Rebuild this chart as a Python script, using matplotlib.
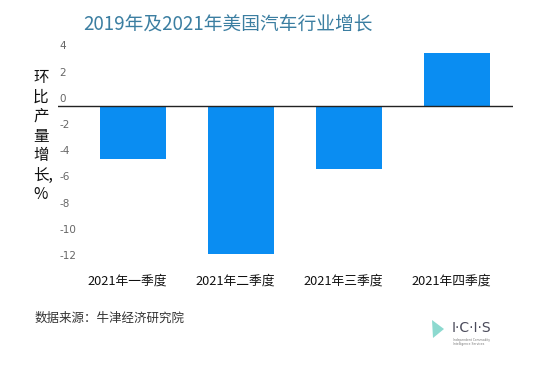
import matplotlib.pyplot as plt
import matplotlib.transforms as mtransforms
from matplotlib.patches import Polygon

plt.rcParams['font.family'] = ['Noto Sans CJK SC', 'DejaVu Sans']

# data (quarter-on-quarter output growth, %)
quarters = ['2021年一季度', '2021年二季度', '2021年三季度', '2021年四季度']
growth = [-4.1, -11.3, -4.85, 4.05]
y_ticks = [4, 2, 0, -2, -4, -6, -8, -10, -12]

bar_color = '#0a8df2'
title_color = '#3b7ea1'

fig = plt.figure(figsize=(5.48, 3.70), dpi=100)
ax = fig.add_axes([58 / 548, 1 - 270.8 / 370, 455 / 548, 230.6 / 370])

x = list(range(len(quarters)))
ax.bar(x, growth, width=0.61, color=bar_color, zorder=2)
ax.axhline(0, color='#222222', linewidth=1.0, zorder=3)

ax.set_xlim(-0.694, 3.52)
ax.set_ylim(-12.6, 5)

for s in ax.spines.values():
    s.set_visible(False)
ax.set_yticks([])
ax.set_xticks(x)
ax.tick_params(axis='x', length=0, pad=3)
lbl_shift = mtransforms.ScaledTranslation(-6 / 100, 0, fig.dpi_scale_trans)
ax.set_xticklabels(quarters, fontsize=9.2, color='#111111')
for t in ax.get_xticklabels():
    t.set_transform(t.get_transform() + lbl_shift)

# y labels sit a little above their gridline positions, left aligned
ytrans = mtransforms.offset_copy(ax.get_yaxis_transform(), fig=fig, x=1, y=7, units='dots')
for v in y_ticks:
    ax.text(0, v, str(v), transform=ytrans, ha='left', va='center',
            fontsize=7.5, color='#666666', family=['DejaVu Sans'])

fig.text(83 / 548, 1 - 25 / 370, '2019年及2021年美国汽车行业增长', fontsize=13.5,
         color=title_color, ha='left', va='center')

fig.text(33 / 548, 1 - 136 / 370, '环\n比\n产\n量\n增\n长,\n%', fontsize=11.2,
         color='#111111', ha='left', va='center', linespacing=1.2, multialignment='left')

fig.text(35 / 548, 1 - 318 / 370, '数据来源：牛津经济研究院', fontsize=9, color='#333333',
         ha='left', va='center')

# ICIS logo
icon = Polygon([[432 / 548, 1 - 320 / 370], [444 / 548, 1 - 329 / 370], [433 / 548, 1 - 338 / 370]],
               closed=True, transform=fig.transFigure, facecolor='#6fd0c4', edgecolor='none', alpha=0.8)
fig.patches.append(icon)
fig.text(452 / 548, 1 - 328 / 370, 'I·C·I·S', fontsize=10, color='#4a4a5a', ha='left', va='center',
         family=['DejaVu Sans'])
fig.text(453 / 548, 1 - 342 / 370, 'Independent Commodity\nIntelligence Services', fontsize=2.2,
         color='#777777', ha='left', va='center', family=['DejaVu Sans'], linespacing=1.1)

fig.savefig('out.png', dpi=100, facecolor='white')
